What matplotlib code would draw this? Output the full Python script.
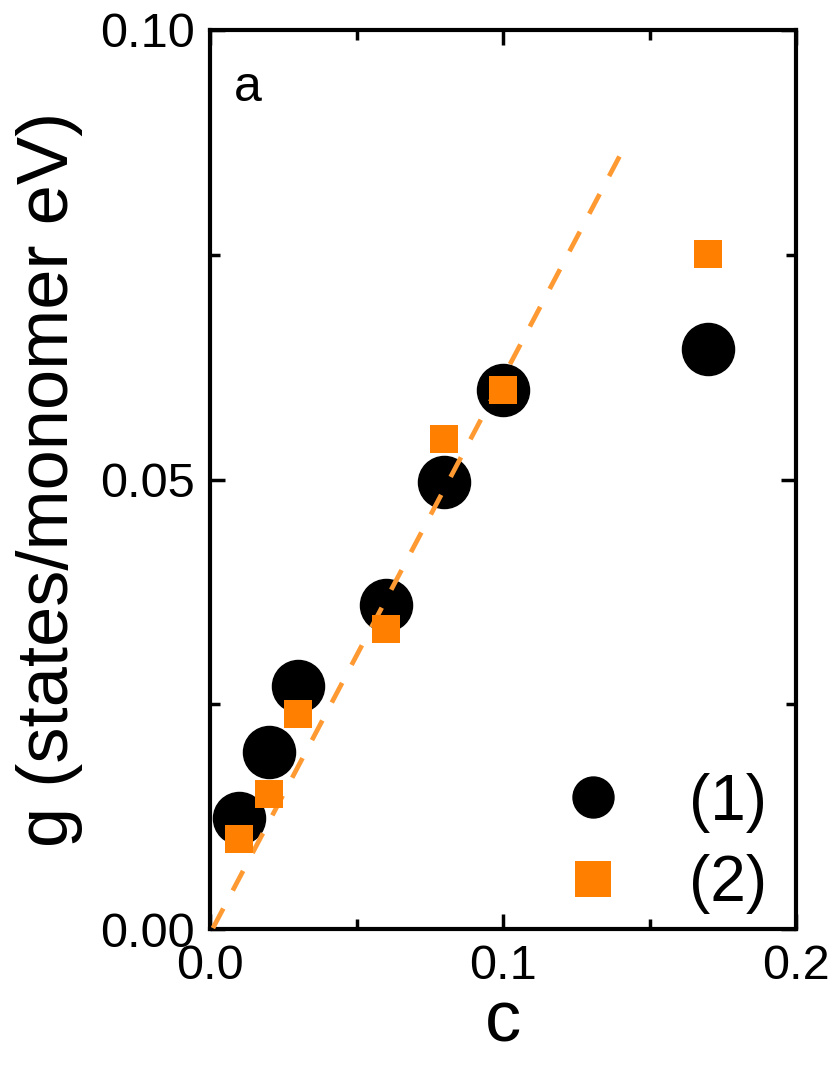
import matplotlib
matplotlib.use("Agg")
import matplotlib.pyplot as plt
from matplotlib.lines import Line2D

# ===== Data =====
c_vals = [0.01, 0.02, 0.03, 0.06, 0.08, 0.10, 0.17]
g_1 = [0.0123, 0.0197, 0.0270, 0.0360, 0.0497, 0.0600, 0.0645]
g_2 = [0.0100, 0.0150, 0.0239, 0.0334, 0.0545, 0.0600, 0.0751]
fit_c = [0.001, 0.1413]
fit_g = [0.0001, 0.0869]

ORANGE = "#FF8000"
FIT_COLOR = "#FF9A33"

plt.rcParams['font.family'] = ['Liberation Sans', 'DejaVu Sans']

fig = plt.figure(figsize=(8.36, 10.67), dpi=100)
ax = fig.add_axes([0.2512, 0.1293, 0.7010, 0.8426])

ax.plot(fit_c, fit_g, linestyle=(0, (4.7, 4.3)), color=FIT_COLOR, linewidth=3.4, zorder=3)
ax.plot(c_vals, g_1, linestyle='none', marker='o', markersize=37.5,
        color='black', zorder=2)
ax.plot(c_vals, g_2, linestyle='none', marker='s', markersize=20.5,
        color=ORANGE, markeredgewidth=0, zorder=4)

ax.set_xlim(0, 0.2)
ax.set_ylim(0, 0.1)
ax.set_xticks([0.0, 0.1, 0.2])
ax.set_xticklabels(['0.0', '0.1', '0.2'])
ax.set_xticks([0.05, 0.15], minor=True)
ax.set_yticks([0.0, 0.05, 0.10])
ax.set_yticklabels(['0.00', '0.05', '0.10'])
ax.set_yticks([0.025, 0.075], minor=True)

ax.tick_params(which='both', direction='in', top=True, right=True,
               width=2.5, labelsize=35)
ax.tick_params(which='major', length=11, pad=11)
ax.tick_params(which='minor', length=7)
for sp in ax.spines.values():
    sp.set_linewidth(3)

ax.set_xlabel('c', fontsize=52, labelpad=0)
ax.set_ylabel('g (states/monomer eV)', fontsize=52, labelpad=12)

ax.text(0.04, 0.935, 'a', transform=ax.transAxes, fontsize=36,
        va='center', ha='left')

handles = [
    Line2D([], [], linestyle='none', marker='o', markersize=29.5, color='black'),
    Line2D([], [], linestyle='none', marker='s', markersize=26,
           color=ORANGE, markeredgewidth=0),
]
ax.legend(handles, ['(1)', '(2)'], loc='upper left',
          bbox_to_anchor=(0.599, 0.174), frameon=False, fontsize=46,
          handlelength=1.0, handletextpad=1.0, labelspacing=0.34,
          borderpad=0, borderaxespad=0)

fig.savefig('out.png', dpi=100)
